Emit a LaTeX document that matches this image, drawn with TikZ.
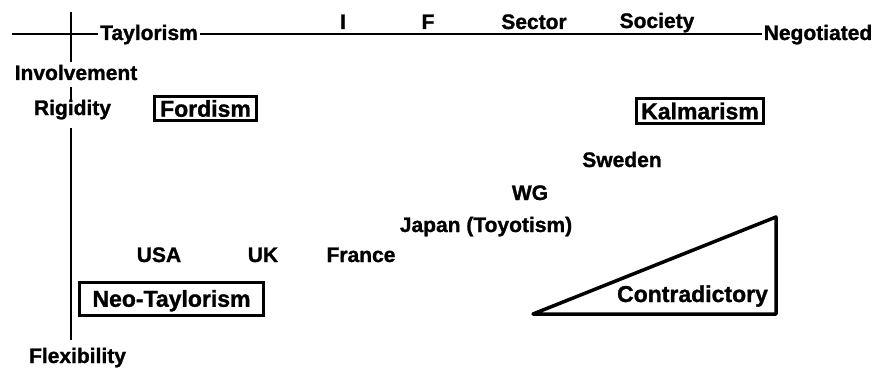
\documentclass[tikz,border=0pt]{standalone}
\usepackage{fontspec}
\setmainfont{Liberation Sans}
\newfontfamily\heavy{Liberation Sans Bold}[FakeBold=1.2]
\begin{document}
\begin{tikzpicture}[x=1pt,y=-1pt,
  lbl/.style={font=\heavy\fontsize{21}{24}\selectfont, inner sep=0pt, anchor=base},
  boxed/.style={draw, line width=3pt, font=\heavy\fontsize{23}{26}\selectfont,
    inner sep=0pt, text height=16.5pt, text depth=0pt},
  axis/.style={line width=2pt}]
\useasboundingbox (0,0) rectangle (879,369);
% axis labels
\node[lbl] (tay) at (149,40) {Taylorism};
\node[lbl] (neg) at (818,40) {Negotiated};
\node[lbl] (i) at (343,29) {I};
\node[lbl] (f) at (428,29) {F};
\node[lbl] (sec) at (534,29) {Sector};
\node[lbl] (soc) at (657,28) {Society};
\node[lbl] (inv) at (76,80) {Involvement};
\node[lbl] (rig) at (72.5,115) {Rigidity};
\node[lbl] (flex) at (77.5,363) {Flexibility};
% countries
\node[lbl] (swe) at (622,167) {Sweden};
\node[lbl] (wg) at (530,200) {WG};
\node[lbl] (jap) at (486,232) {Japan (Toyotism)};
\node[lbl] (usa) at (159,262) {USA};
\node[lbl] (uk) at (263,262) {UK};
\node[lbl] (fra) at (361,262) {France};
% boxed models
\node[boxed, minimum width=102pt, minimum height=24.5pt] (ford) at (205.5,108.5) {Fordism};
\node[boxed, minimum width=127pt, minimum height=25.5pt] (kal) at (700,111) {Kalmarism};
\node[boxed, minimum width=184pt, minimum height=33pt] (neo) at (171.5,298.5) {Neo-Taylorism};
% axes
\coordinate (hleft) at (12,34);
\coordinate (vtop) at (71,12);
\draw[axis] (hleft) -- ([xshift=-2pt]hleft -| tay.west);
\draw[axis] ([xshift=2pt]hleft -| tay.east) -- ([xshift=-2pt]hleft -| neg.west);
\draw[axis, shorten >=3pt] (vtop) -- (vtop |- inv.north);
\draw[axis, shorten <=7pt] (vtop |- inv.south) -- (vtop |- rig.north);
\draw[axis, shorten <=8pt, shorten >=8pt] (vtop |- rig.south) -- (vtop |- flex.north);
% contradictory wedge
\coordinate (ta) at (533,314);
\coordinate (tb) at (776,217);
\coordinate (tc) at (776,314);
\draw[line width=3.5pt, line join=round] (ta) -- (tb) -- (tc) -- cycle;
\node[lbl, font=\heavy\fontsize{23}{26}\selectfont] (con) at (692.5,302) {Contradictory};
\end{tikzpicture}
\end{document}
